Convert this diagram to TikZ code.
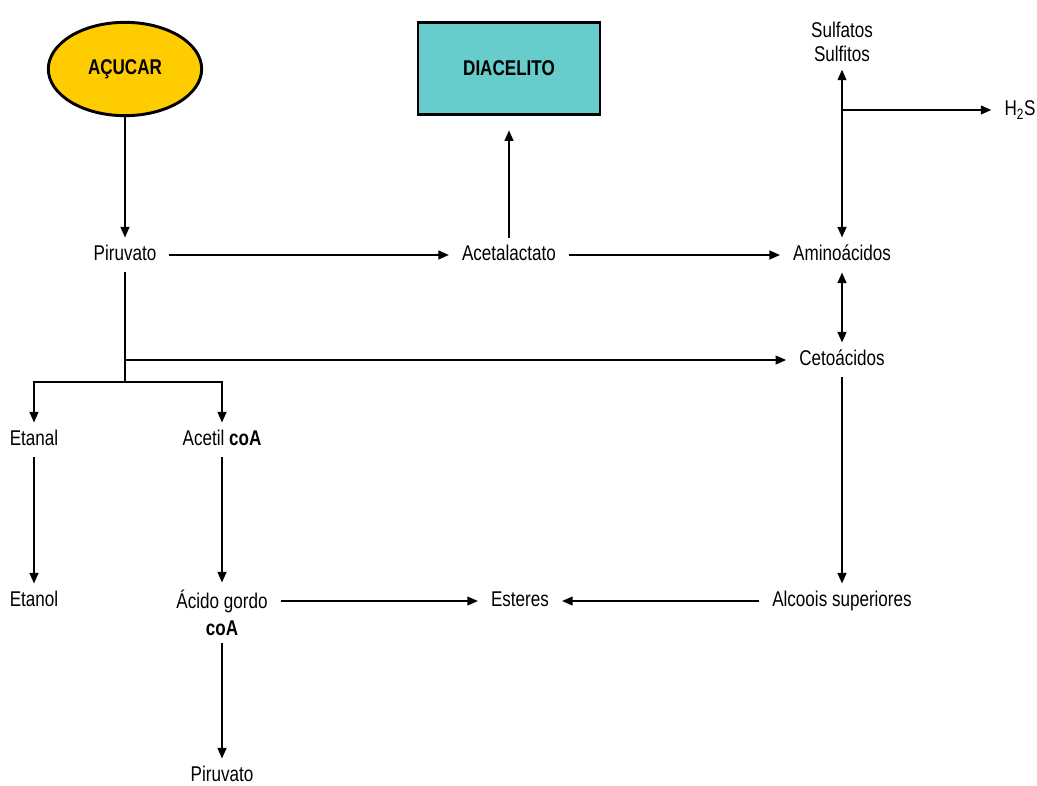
\documentclass[tikz,border=0pt]{standalone}
\usepackage{fontspec}
\setmainfont{Liberation Sans}[FakeStretch=0.8]
\usetikzlibrary{arrows.meta,shapes.geometric}
\definecolor{acucarcor}{HTML}{FFCC00}
\definecolor{diacor}{HTML}{66CCCC}
\tikzset{
  lbl2/.style={inner xsep=9pt, inner ysep=5pt, font=\fontsize{16}{18}\selectfont, align=center},
  lbl/.style={lbl2, text height=11.5pt, text depth=3pt},
  caixa/.style={draw, font=\bfseries\fontsize{16}{18}\selectfont},
  arr/.style={-{Triangle[length=8pt,width=6.5pt]}},
  arrs/.style={{Triangle[length=8pt,width=6.5pt]}-{Triangle[length=8pt,width=6.5pt]}}
}
\begin{document}
\begin{tikzpicture}[x=0.75pt,y=-0.75pt,line width=1.6pt]
\useasboundingbox (0,0) rectangle (1037,785);
\node[caixa,ellipse,line width=2.2pt,fill=acucarcor,minimum width=115pt,minimum height=70pt] (acucar) at (125,69) {AÇUCAR};
\node[caixa,rectangle,fill=diacor,minimum width=136pt,minimum height=69pt] (diacelito) at (509,68.5) {DIACELITO};
\node[lbl2] (sulf) at (842,42) {Sulfatos\\Sulfitos};
\node[lbl] (h2s) at (1020,110) {H\textsubscript{2}S};
\node[lbl] (piruvato) at (125,255) {Piruvato};
\node[lbl] (acetal) at (509,255) {Acetalactato};
\node[lbl] (amino) at (842,255) {Aminoácidos};
\node[lbl] (ceto) at (842,360) {Cetoácidos};
\node[lbl] (etanal) at (34,440) {Etanal};
\node[lbl] (acetil) at (222,440) {Acetil \textbf{coA}};
\node[lbl2,font=\fontsize{16}{20}\selectfont] (acido) at (222,613) {Ácido gordo\\\textbf{coA}};
\node[lbl] (etanol) at (34,601) {Etanol};
\node[lbl] (esteres) at (520,601) {Esteres};
\node[lbl] (alcoois) at (842,601) {Alcoois superiores};
\node[lbl] (piruvatob) at (222,776) {Piruvato};
\coordinate (split) at (125,382);
\draw[arr] (acucar) -- (piruvato);
\draw[arr] (piruvato) -- (acetal);
\draw[arr,shorten >=11pt] (acetal) -- (diacelito);
\draw[arr] (acetal) -- (amino);
\draw[arrs] (sulf) -- (amino);
\draw[arr] (amino |- h2s) -- (h2s);
\draw[arrs] (amino) -- (ceto);
\draw (piruvato) -- (split);
\draw[arr] (piruvato |- ceto) -- (ceto);
\draw[arr] (split) -| (etanal);
\draw[arr] (split) -| (acetil);
\draw[arr] (etanal) -- (etanol);
\draw[arr] (acetil) -- (acido);
\draw[arr] (acido.east |- esteres) -- (esteres);
\draw[arr] (alcoois) -- (esteres);
\draw[arr] (ceto) -- (alcoois);
\draw[arr] (acido) -- (piruvatob);
\end{tikzpicture}
\end{document}
